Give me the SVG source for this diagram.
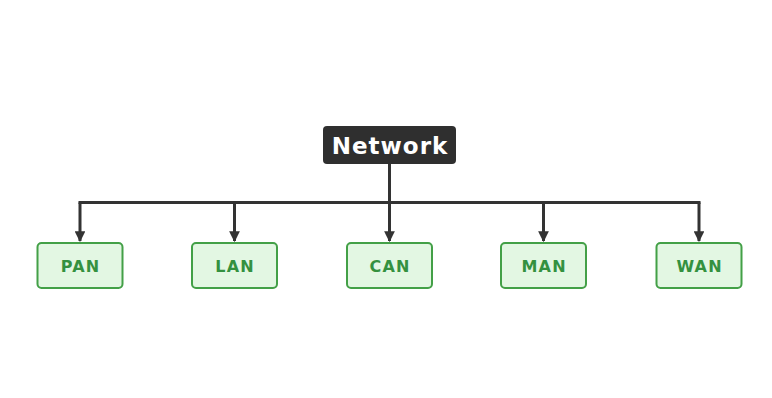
<svg xmlns="http://www.w3.org/2000/svg" width="772" height="398" viewBox="0 0 772 398">
  <defs>
    <marker id="arrow" viewBox="0 0 10 10" refX="9" refY="5" markerWidth="3.6" markerHeight="3.6" orient="auto" markerUnits="strokeWidth">
      <path d="M0,0 L10,5 L0,10 z" fill="#333333"/>
    </marker>
    <style>
      .edge { fill: none; stroke: #333333; stroke-width: 3; }
      .leaf rect { fill: #e3f7e3; stroke: #43a047; stroke-width: 2; }
      .leaf text { fill: #34913f; font-family: "DejaVu Sans", "Liberation Sans", sans-serif; font-weight: 700; font-size: 16px; letter-spacing: 1.2px; text-anchor: middle; }
      .root rect { fill: #2f2f2f; }
      .root text { fill: #ffffff; font-family: "DejaVu Sans", "Liberation Sans", sans-serif; font-weight: 700; font-size: 23px; letter-spacing: 1px; text-anchor: middle; }
    </style>
  </defs>
  <rect width="772" height="398" fill="#ffffff"/>

  <g id="connectors">
    <path class="edge" d="M389.5,164 V202.5"/>
    <path class="edge" d="M78.5,202.5 H700.5"/>
    <path class="edge" d="M80,202.5 V241" marker-end="url(#arrow)"/>
    <path class="edge" d="M234.5,202.5 V241" marker-end="url(#arrow)"/>
    <path class="edge" d="M389.5,202.5 V241" marker-end="url(#arrow)"/>
    <path class="edge" d="M543.5,202.5 V241" marker-end="url(#arrow)"/>
    <path class="edge" d="M699,202.5 V241" marker-end="url(#arrow)"/>
  </g>

  <g id="network" class="root">
    <rect x="323" y="126" width="133" height="38" rx="4"/>
    <text x="390" y="153.5">Network</text>
  </g>

  <g id="pan" class="leaf">
    <rect x="37.5" y="243" width="85" height="45" rx="4"/>
    <text x="80.6" y="271.5">PAN</text>
  </g>
  <g id="lan" class="leaf">
    <rect x="192" y="243" width="85" height="45" rx="4"/>
    <text x="235.1" y="271.5">LAN</text>
  </g>
  <g id="can" class="leaf">
    <rect x="347" y="243" width="85" height="45" rx="4"/>
    <text x="390.1" y="271.5">CAN</text>
  </g>
  <g id="man" class="leaf">
    <rect x="501" y="243" width="85" height="45" rx="4"/>
    <text x="544.1" y="271.5">MAN</text>
  </g>
  <g id="wan" class="leaf">
    <rect x="656.5" y="243" width="85" height="45" rx="4"/>
    <text x="699.6" y="271.5">WAN</text>
  </g>
</svg>
